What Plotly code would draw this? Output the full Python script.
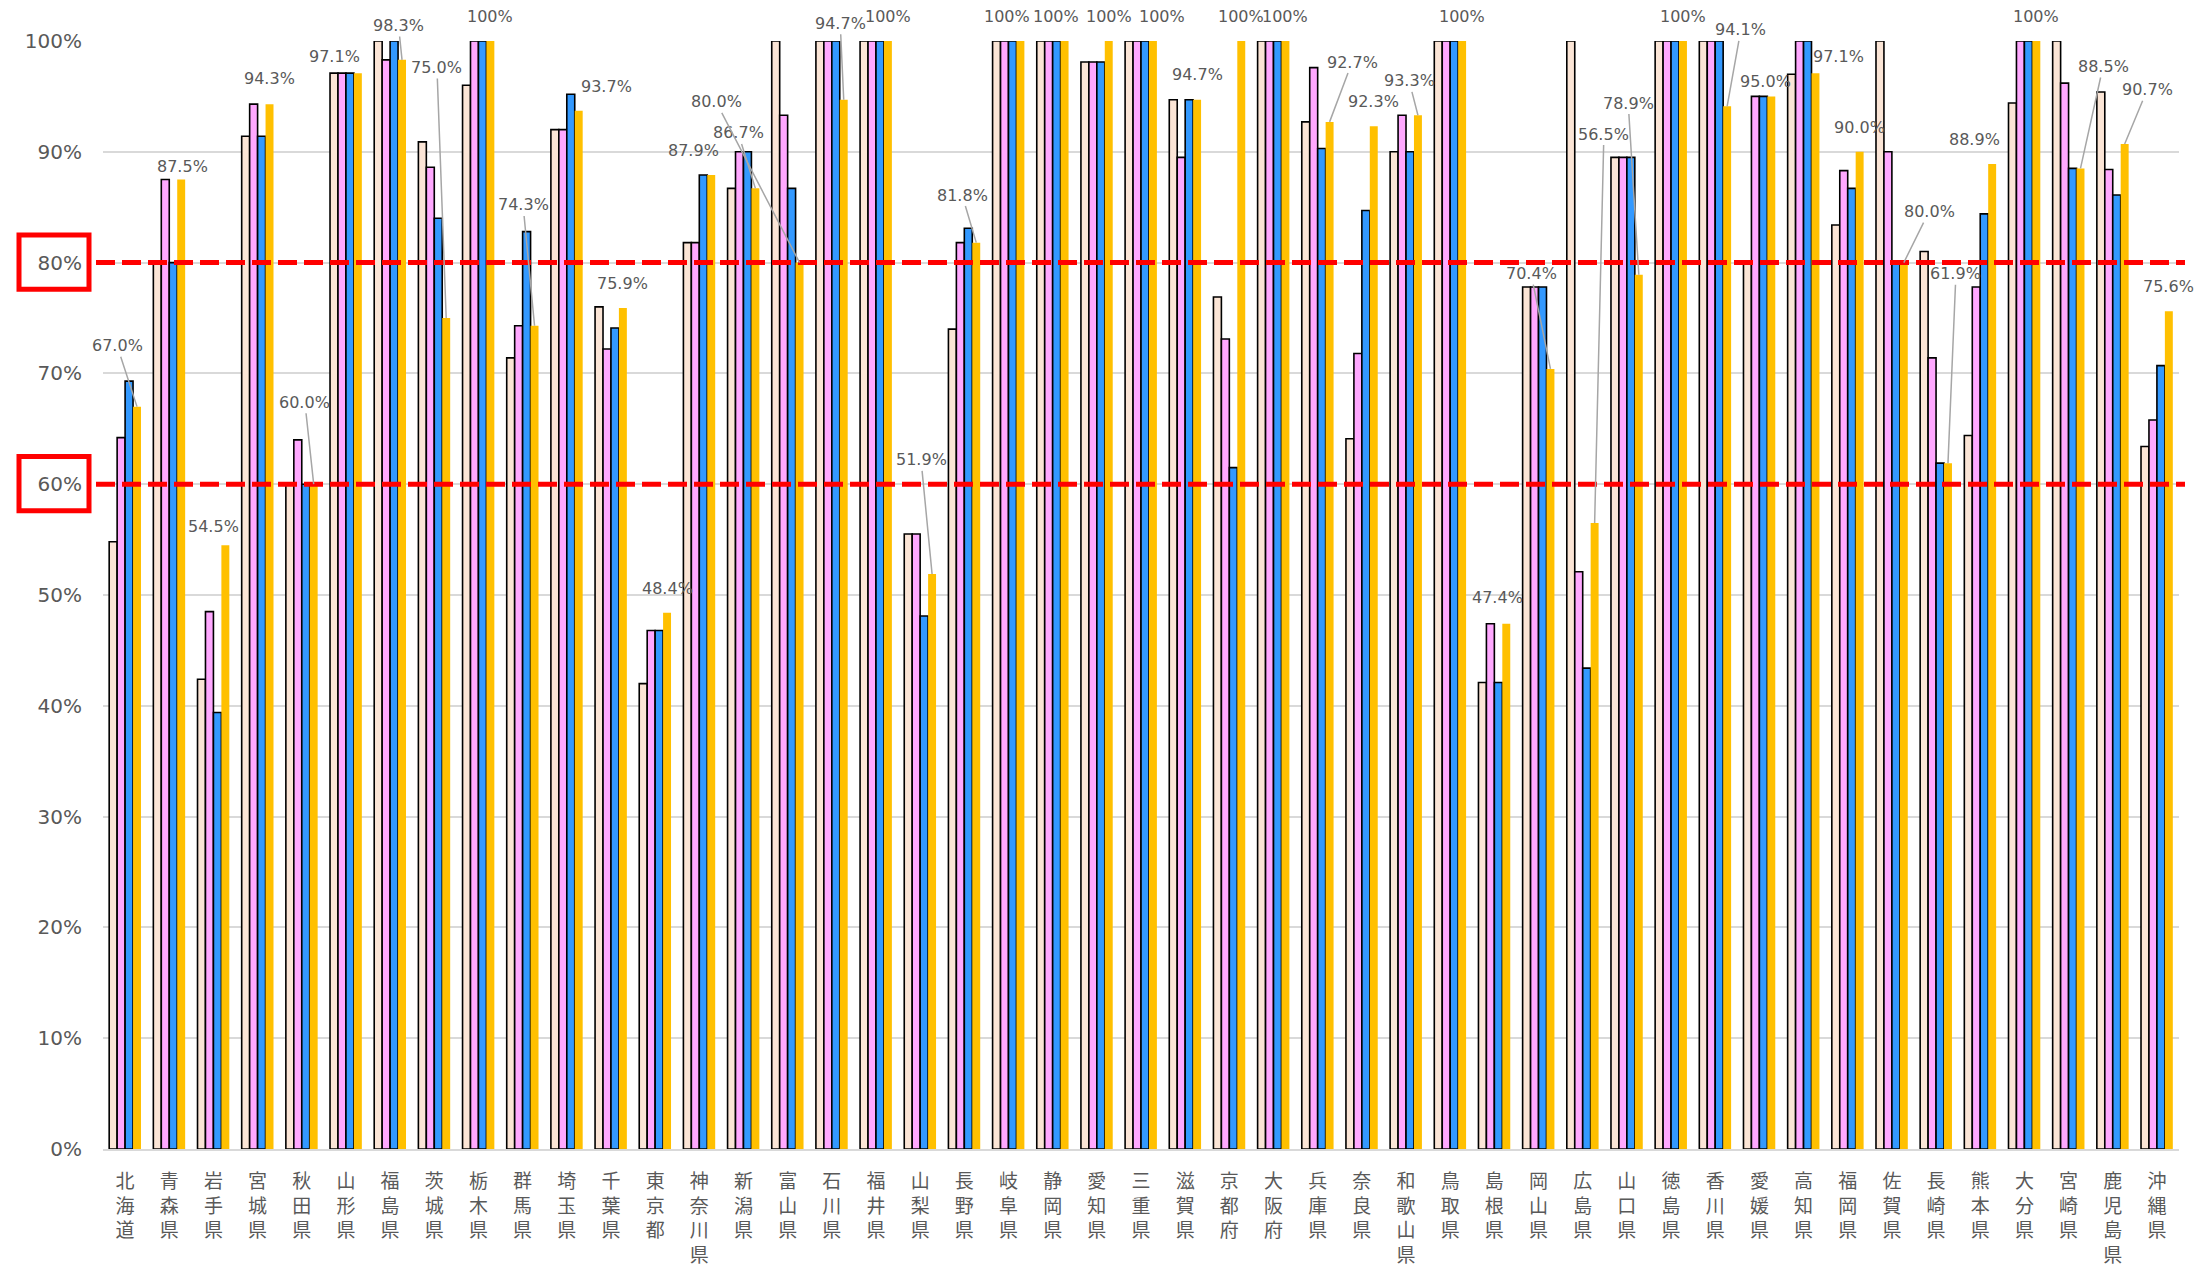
import plotly.graph_objects as go

# ---------------- data ----------------
prefs = ["北海道","青森県","岩手県","宮城県","秋田県","山形県","福島県","茨城県","栃木県","群馬県",
         "埼玉県","千葉県","東京都","神奈川県","新潟県","富山県","石川県","福井県","山梨県","長野県",
         "岐阜県","静岡県","愛知県","三重県","滋賀県","京都府","大阪府","兵庫県","奈良県","和歌山県",
         "鳥取県","島根県","岡山県","広島県","山口県","徳島県","香川県","愛媛県","高知県","福岡県",
         "佐賀県","長崎県","熊本県","大分県","宮崎県","鹿児島県","沖縄県"]

series_a = [54.8, 80.0, 42.4, 91.4, 60.0, 97.1, 100, 90.9, 96.0, 71.4, 92.0, 76.0, 42.0, 81.8, 86.7,
            100, 100, 100, 55.5, 74.0, 100, 100, 98.1, 100, 94.7, 76.9, 100, 92.7, 64.1, 90.0,
            100, 42.1, 77.8, 100, 89.5, 100, 100, 80.0, 97.0, 83.4, 100, 81.0, 64.4, 94.4, 100, 95.4, 63.4]
series_b = [64.2, 87.5, 48.5, 94.3, 64.0, 97.1, 98.3, 88.6, 100, 74.3, 92.0, 72.2, 46.8, 81.8, 90.0,
            93.3, 100, 100, 55.5, 81.8, 100, 100, 98.1, 100, 89.5, 73.1, 100, 97.6, 71.8, 93.3,
            100, 47.4, 77.8, 52.1, 89.5, 100, 100, 95.0, 100, 88.3, 90.0, 71.4, 77.8, 100, 96.2, 88.4, 65.8]
series_c = [69.3, 80.0, 39.4, 91.4, 60.0, 97.1, 100, 84.0, 100, 82.8, 95.2, 74.1, 46.8, 87.9, 90.0,
            86.7, 100, 100, 48.1, 83.1, 100, 100, 98.1, 100, 94.7, 61.5, 100, 90.3, 84.7, 90.0,
            100, 42.1, 77.8, 43.4, 89.5, 100, 100, 95.0, 100, 86.7, 80.0, 61.9, 84.4, 100, 88.5, 86.1, 70.7]
series_d = [67.0, 87.5, 54.5, 94.3, 60.0, 97.1, 98.3, 75.0, 100, 74.3, 93.7, 75.9, 48.4, 87.9, 86.7,
            80.0, 94.7, 100, 51.9, 81.8, 100, 100, 100, 100, 94.7, 100, 100, 92.7, 92.3, 93.3,
            100, 47.4, 70.4, 56.5, 78.9, 100, 94.1, 95.0, 97.1, 90.0, 80.0, 61.9, 88.9, 100, 88.5, 90.7, 75.6]

y_ticks = [0, 10, 20, 30, 40, 50, 60, 70, 80, 90, 100]
targets = [80, 60]

# label placement of series D labels: (dx in category units, dy in % points, leader line?)
label_place = [(-0.45, 5.5, 1), (0.04, 1.2, 0), (-0.26, 1.7, 0), (0, 2.3, 0), (-0.2, 7.4, 1),
               (-0.52, 1.5, 0), (-0.08, 3.1, 1), (-0.21, 22.6, 1), (0, 2.2, 0), (-0.26, 10.9, 1),
               (0.64, 2.2, 0), (0, 2.2, 0), (0, 2.2, 0), (-0.41, 2.2, 0), (-0.39, 5.0, 1),
               (-1.89, 14.5, 1), (-0.08, 6.9, 1), (0, 2.2, 0), (-0.25, 10.3, 1), (-0.32, 4.3, 1),
               (-0.3, 2.2, 0), (-0.19, 2.2, 0), (0, 2.2, 0), (0.2, 2.2, 0), (0, 2.3, 0),
               (0, 2.2, 0), (0, 2.2, 0), (0.51, 5.4, 1), (0, 2.2, 0), (-0.2, 3.1, 1),
               (0, 2.2, 0), (-0.21, 2.4, 0), (-0.44, 8.6, 1), (0.21, 35.1, 1), (-0.24, 15.5, 1),
               (0, 2.2, 0), (0.31, 6.9, 1), (-0.14, 1.3, 0), (0.51, 1.5, 0), (0, 2.2, 0),
               (0.57, 4.6, 1), (0.18, 17.1, 1), (-0.39, 2.2, 0), (0, 2.2, 0), (0.51, 9.2, 1),
               (0.51, 4.9, 1), (0, 2.2, 0)]

# ---------------- figure ----------------
W, H = 2212, 1279
ML, MR, MT, MB = 103, 33, 41, 128
BW = 0.18
GREY_TXT = "#595959"
plot_w = W - ML - MR
plot_h = H - MT - MB
px_per_cat = plot_w / len(prefs)
px_per_pct = plot_h / 100.0

xs = list(range(len(prefs)))
fig = go.Figure()
styles = [
    (series_a, "#FBE5D6", 1.6, -2 * BW),
    (series_b, "#FFA8FF", 1.6, -1 * BW),
    (series_c, "#3399FF", 1.6, 0.0),
    (series_d, "#FFC000", 0.0, 1 * BW),
]
for vals, col, lw, off in styles:
    fig.add_trace(go.Bar(
        x=xs, y=[v / 100 for v in vals], width=BW, offset=off,
        marker=dict(color=col, line=dict(color="black" if lw > 0 else col, width=lw)),
        showlegend=False, hoverinfo="skip",
    ))

# data labels for series D
annotations = []
lab_font = dict(family="DejaVu Sans", size=16, color=GREY_TXT)
for i, (v, (dx, dy, lead)) in enumerate(zip(series_d, label_place)):
    txt = "100%" if v >= 100 else f"{v:.1f}%"
    hx = i + 1.5 * BW
    if lead:
        annotations.append(dict(
            x=hx, y=v / 100, xref="x", yref="y", ax=hx + dx, ay=(v + dy) / 100,
            axref="x", ayref="y",
            text=txt, showarrow=True, arrowhead=0, arrowwidth=1.5, arrowcolor="#A6A6A6",
            standoff=0, startstandoff=0, font=lab_font))
    else:
        annotations.append(dict(
            x=hx, y=v / 100, xref="x", yref="y", text=txt, showarrow=False,
            xanchor="center", yanchor="middle",
            xshift=dx * px_per_cat, yshift=dy * px_per_pct, font=lab_font))

shapes = []
for t in targets:
    shapes.append(dict(type="line", xref="paper", yref="y",
                       x0=(96 - ML) / plot_w, x1=(2185 - ML) / plot_w, y0=t / 100, y1=t / 100,
                       line=dict(color="#FF0000", width=5, dash="19px,7px"), layer="above"))
    shapes.append(dict(type="rect", xref="paper", yref="y",
                       x0=(19 - ML) / plot_w, x1=(89 - ML) / plot_w,
                       y0=t / 100 - 0.024, y1=t / 100 + 0.025,
                       line=dict(color="#FF0000", width=5), fillcolor="rgba(0,0,0,0)"))

fig.update_layout(
    width=W, height=H, margin=dict(l=ML, r=MR, t=MT, b=MB),
    barmode="overlay", plot_bgcolor="white", paper_bgcolor="white",
    annotations=annotations, shapes=shapes,
    xaxis=dict(range=[-0.5, len(prefs) - 0.5], tickmode="array", tickvals=xs,
               ticktext=["<br>".join(list(p)) for p in prefs], tickangle=0,
               showgrid=False, showline=True, linecolor="#D9D9D9", linewidth=2,
               ticks="", ticklabelstandoff=14,
               tickfont=dict(family="Noto Sans CJK JP", size=19, color=GREY_TXT)),
    yaxis=dict(range=[0, 1], tickmode="array", tickvals=[t / 100 for t in y_ticks],
               ticktext=[f"{t}%" for t in y_ticks],
               showgrid=True, gridcolor="#D9D9D9", gridwidth=1.5, zeroline=False,
               ticks="", ticklabelstandoff=20,
               tickfont=dict(family="DejaVu Sans", size=20, color=GREY_TXT)),
)

fig.write_html("out.html", config={"displayModeBar": False},
               post_script="document.body.style.margin='0';")
